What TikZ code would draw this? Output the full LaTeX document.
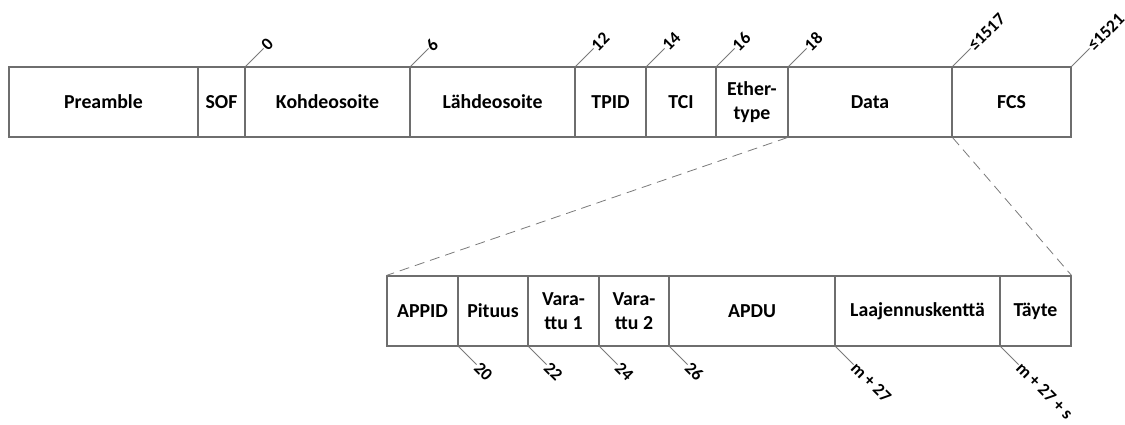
\documentclass[tikz,border=0pt]{standalone}
\usepackage{fontspec}
\setmainfont{Carlito}
\definecolor{linegray}{HTML}{6E6E6E}
\definecolor{tickgray}{HTML}{7A7A7A}
\begin{document}
\begin{tikzpicture}[x=1pt,y=-1pt,
  field/.style={draw=linegray, line width=1.1pt, minimum height=70pt, inner sep=0pt,
    font=\bfseries\fontsize{19.8}{24}\selectfont, align=center, text=black},
  tickline/.style={draw=tickgray, line width=0.8pt},
  uplabel/.style={rotate=45, anchor=west, inner sep=0.5pt, font=\bfseries\fontsize{17.5}{20}\selectfont},
  downlabel/.style={rotate=-45, anchor=west, inner sep=0.5pt, font=\bfseries\fontsize{17.5}{20}\selectfont},
  zoomline/.style={draw=tickgray, line width=0.8pt, dash pattern=on 10pt off 6pt}]
\useasboundingbox (0,0) rectangle (1125,425);
% top frame
\node[field, minimum width=189pt] (pre)   at (103.5,102) {Preamble};
\node[field, minimum width=47pt]  (sof)   at (221.5,102) {SOF};
\node[field, minimum width=165pt] (kohde) at (327.5,102) {Kohdeosoite};
\node[field, minimum width=165pt] (lahde) at (492.5,102) {Lähdeosoite};
\node[field, minimum width=71pt]  (tpid)  at (610.5,102) {TPID};
\node[field, minimum width=70pt]  (tci)   at (681,102)   {TCI};
\node[field, minimum width=72pt]  (eth)   at (752,102)   {Ether-\\type};
\node[field, minimum width=164pt] (data)  at (870,102)   {Data};
\node[field, minimum width=119pt] (fcs)   at (1011.5,102) {FCS};
% bottom frame
\node[field, minimum width=71pt]  (appid) at (422.5,311) {APPID};
\node[field, minimum width=70pt]  (pit)   at (493,311)   {Pituus};
\node[field, minimum width=71pt]  (v1)    at (563.5,311) {Vara-\\ttu 1};
\node[field, minimum width=70pt]  (v2)    at (634,311)   {Vara-\\ttu 2};
\node[field, minimum width=166pt] (apdu)  at (752,311)   {APDU};
\node[field, minimum width=165pt] (laaj)  at (917.5,311) {Laajennuskenttä};
\node[field, minimum width=71pt]  (tayte) at (1035.5,311) {Täyte};
% top ticks
\draw[tickline] (sof.north east)   -- ++(18,-18) coordinate (t0);
\draw[tickline] (kohde.north east) -- ++(18,-18) coordinate (t6);
\draw[tickline] (lahde.north east) -- ++(18,-18) coordinate (t12);
\draw[tickline] (tpid.north east)  -- ++(18,-18) coordinate (t14);
\draw[tickline] (tci.north east)   -- ++(18,-18) coordinate (t16);
\draw[tickline] (eth.north east)   -- ++(18,-18) coordinate (t18);
\draw[tickline] (data.north east)  -- ++(18,-18) coordinate (t1517);
\draw[tickline] (fcs.north east)   -- ++(18,-18) coordinate (t1521);
\node[uplabel] (l0)    at (t0)    {0};
\node[uplabel] (l6)    at (t6)    {6};
\node[uplabel] (l12)   at (t12)   {12};
\node[uplabel] (l14)   at (t14)   {14};
\node[uplabel] (l16)   at (t16)   {16};
\node[uplabel] (l18)   at (t18)   {18};
\node[uplabel] (l1517) at (t1517) {≤1517};
\node[uplabel] (l1521) at (t1521) {≤1521};
% bottom ticks
\draw[tickline] (appid.south east) -- ++(18,18) coordinate (b20);
\draw[tickline] (pit.south east)   -- ++(18,18) coordinate (b22);
\draw[tickline] (v1.south east)    -- ++(18,18) coordinate (b24);
\draw[tickline] (v2.south east)    -- ++(18,18) coordinate (b26);
\draw[tickline] (apdu.south east)  -- ++(18,18) coordinate (bm);
\draw[tickline] (laaj.south east)  -- ++(18,18) coordinate (bms);
\node[downlabel] (l20) at (b20) {20};
\node[downlabel] (l22) at (b22) {22};
\node[downlabel] (l24) at (b24) {24};
\node[downlabel] (l26) at (b26) {26};
\node[downlabel] (lm)  at (bm)  {m + 27};
\node[downlabel] (lms) at (bms) {m + 27 + s};
% zoom lines
\draw[zoomline] (data.south west) -- (appid.north west);
\draw[zoomline] (data.south east) -- (tayte.north east);
\end{tikzpicture}
\end{document}
